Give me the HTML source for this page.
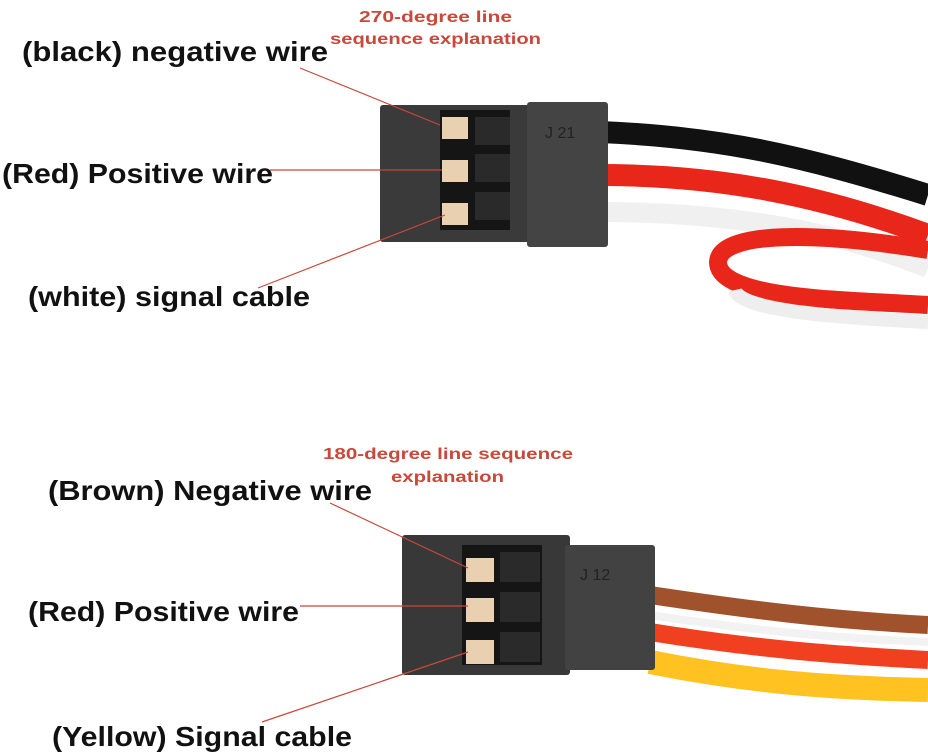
<!DOCTYPE html>
<html><head><style>
body{margin:0;background:#fff;}
svg{display:block}
.l{font-family:"Liberation Sans",sans-serif;font-weight:bold;font-size:28px;fill:#111}
.r{font-family:"Liberation Sans",sans-serif;font-weight:bold;font-size:16px;fill:#c8483a}
</style></head><body>
<svg width="928" height="756" viewBox="0 0 928 756">
<!-- top wires -->
<path d="M600 132 C720 137 800 155 928 195" stroke="#111" stroke-width="22" fill="none"/>
<path d="M600 175 C720 175 820 195 928 235" stroke="#e8261a" stroke-width="22" fill="none"/>
<path d="M600 212 C720 212 830 228 928 268" stroke="#f0f0f0" stroke-width="20" fill="none"/>
<path d="M928 250 C820 232 720 230 718 262 C718 300 850 300 928 305" stroke="#e8261a" stroke-width="18" fill="none"/>
<path d="M928 322 C850 318 740 312 735 290" stroke="#eee" stroke-width="14" fill="none"/>
<!-- top connector -->
<rect x="380" y="105" width="152" height="137" rx="3" fill="#3a3a3a"/>
<rect x="527" y="102" width="81" height="145" rx="3" fill="#444"/>
<rect x="440" y="110" width="70" height="120" fill="#151515"/>
<rect x="475" y="117" width="35" height="28" fill="#2a2a2a"/><rect x="475" y="154" width="35" height="28" fill="#2a2a2a"/><rect x="475" y="192" width="35" height="28" fill="#2a2a2a"/>
<rect x="442" y="117" width="26" height="22" fill="#e8d0b0"/><rect x="442" y="160" width="26" height="22" fill="#e8d0b0"/><rect x="442" y="203" width="26" height="22" fill="#e8d0b0"/>
<text x="545" y="138" font-family="Liberation Sans" font-size="16" fill="#222">J 21</text>
<!-- bottom wires -->
<path d="M650 595 C750 610 830 620 928 625" stroke="#a0522d" stroke-width="18" fill="none"/>
<path d="M650 615 C750 630 830 638 928 642" stroke="#f2f2f2" stroke-width="8" fill="none"/>
<path d="M650 632 C750 648 830 655 928 660" stroke="#f04020" stroke-width="18" fill="none"/>
<path d="M650 662 C750 682 830 688 928 690" stroke="#ffc220" stroke-width="24" fill="none"/>
<!-- bottom connector -->
<rect x="402" y="535" width="168" height="140" rx="3" fill="#383838"/>
<rect x="565" y="545" width="90" height="125" rx="3" fill="#424242"/>
<rect x="462" y="545" width="80" height="120" fill="#151515"/>
<rect x="500" y="552" width="40" height="30" fill="#2a2a2a"/><rect x="500" y="592" width="40" height="30" fill="#2a2a2a"/><rect x="500" y="632" width="40" height="30" fill="#2a2a2a"/>
<rect x="466" y="558" width="28" height="24" fill="#e8d0b0"/><rect x="466" y="598" width="28" height="24" fill="#e8d0b0"/><rect x="466" y="640" width="28" height="24" fill="#e8d0b0"/>
<text x="580" y="580" font-family="Liberation Sans" font-size="16" fill="#222">J 12</text>
<!-- leaders -->
<g stroke="#c8483a" stroke-width="1.2">
<line x1="300" y1="68" x2="440" y2="125"/><line x1="270" y1="170" x2="442" y2="170"/><line x1="258" y1="288" x2="445" y2="215"/>
<line x1="330" y1="503" x2="468" y2="568"/><line x1="300" y1="606" x2="468" y2="606"/><line x1="262" y1="722" x2="468" y2="652"/>
</g>
<text class="r" x="359" y="22" textLength="153" lengthAdjust="spacingAndGlyphs">270-degree line</text>
<text class="r" x="330" y="44" textLength="211" lengthAdjust="spacingAndGlyphs">sequence explanation</text>
<text class="r" x="323" y="459" textLength="250" lengthAdjust="spacingAndGlyphs">180-degree line sequence</text>
<text class="r" x="391" y="482" textLength="113" lengthAdjust="spacingAndGlyphs">explanation</text>
<text class="l" x="22" y="61" textLength="306" lengthAdjust="spacingAndGlyphs">(black) negative wire</text>
<text class="l" x="2" y="183" textLength="271" lengthAdjust="spacingAndGlyphs">(Red) Positive wire</text>
<text class="l" x="28" y="306" textLength="282" lengthAdjust="spacingAndGlyphs">(white) signal cable</text>
<text class="l" x="48" y="500" textLength="324" lengthAdjust="spacingAndGlyphs">(Brown) Negative wire</text>
<text class="l" x="28" y="621" textLength="271" lengthAdjust="spacingAndGlyphs">(Red) Positive wire</text>
<text class="l" x="52" y="746" textLength="300" lengthAdjust="spacingAndGlyphs">(Yellow) Signal cable</text>
</svg>
</body></html>
